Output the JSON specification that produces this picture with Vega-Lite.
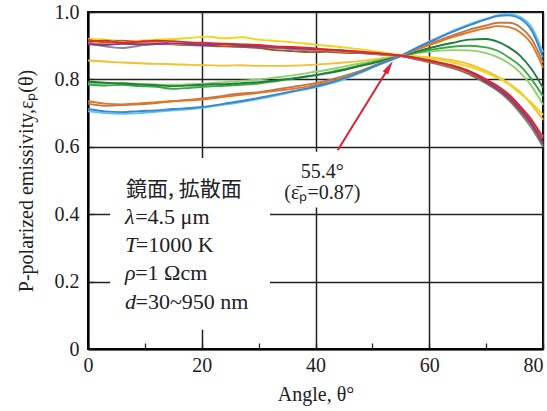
{
  "$schema": "https://vega.github.io/schema/vega-lite/v6.json",
  "width": 455,
  "height": 337,
  "autosize": {"type": "none"},
  "padding": {"left": 88, "top": 12, "right": 4, "bottom": 62},
  "background": "white",
  "config": {
    "view": {"stroke": "#000", "strokeWidth": 2},
    "font": "Liberation Serif"
  },
  "datasets": {
    "curves": [
      {"x":0,"a1":0.912,"a2":0.905,"a3":0.918,"a4":0.910,"a5":0.908,"a6":0.920,"b1":0.856,"b2":0.793,"b3":0.785,"b4":0.790,"b5":0.735,"b6":0.728,"b7":0.712,"b8":0.705},
      {"x":3,"a1":0.915,"a2":0.902,"a3":0.910,"a4":0.905,"a5":0.898,"a6":0.918,"b1":0.853,"b2":0.790,"b3":0.782,"b4":0.788,"b5":0.728,"b6":0.722,"b7":0.705,"b8":0.700},
      {"x":6,"a1":0.908,"a2":0.906,"a3":0.915,"a4":0.912,"a5":0.893,"a6":0.914,"b1":0.850,"b2":0.788,"b3":0.784,"b4":0.790,"b5":0.726,"b6":0.724,"b7":0.703,"b8":0.698},
      {"x":9,"a1":0.912,"a2":0.904,"a3":0.910,"a4":0.908,"a5":0.900,"a6":0.915,"b1":0.848,"b2":0.785,"b3":0.780,"b4":0.787,"b5":0.729,"b6":0.726,"b7":0.706,"b8":0.700},
      {"x":12,"a1":0.915,"a2":0.905,"a3":0.912,"a4":0.910,"a5":0.905,"a6":0.918,"b1":0.846,"b2":0.783,"b3":0.778,"b4":0.785,"b5":0.732,"b6":0.730,"b7":0.708,"b8":0.704},
      {"x":15,"a1":0.913,"a2":0.907,"a3":0.905,"a4":0.904,"a5":0.904,"a6":0.920,"b1":0.845,"b2":0.780,"b3":0.772,"b4":0.784,"b5":0.736,"b6":0.735,"b7":0.712,"b8":0.708},
      {"x":18,"a1":0.910,"a2":0.905,"a3":0.902,"a4":0.905,"a5":0.903,"a6":0.923,"b1":0.843,"b2":0.782,"b3":0.775,"b4":0.786,"b5":0.738,"b6":0.740,"b7":0.715,"b8":0.712},
      {"x":21,"a1":0.908,"a2":0.902,"a3":0.900,"a4":0.906,"a5":0.904,"a6":0.927,"b1":0.842,"b2":0.785,"b3":0.779,"b4":0.788,"b5":0.742,"b6":0.745,"b7":0.720,"b8":0.718},
      {"x":24,"a1":0.906,"a2":0.905,"a3":0.898,"a4":0.902,"a5":0.900,"a6":0.922,"b1":0.841,"b2":0.786,"b3":0.781,"b4":0.792,"b5":0.748,"b6":0.752,"b7":0.728,"b8":0.725},
      {"x":27,"a1":0.904,"a2":0.900,"a3":0.897,"a4":0.903,"a5":0.897,"a6":0.925,"b1":0.842,"b2":0.789,"b3":0.784,"b4":0.796,"b5":0.754,"b6":0.758,"b7":0.736,"b8":0.733},
      {"x":30,"a1":0.902,"a2":0.898,"a3":0.893,"a4":0.899,"a5":0.896,"a6":0.918,"b1":0.840,"b2":0.792,"b3":0.788,"b4":0.800,"b5":0.760,"b6":0.762,"b7":0.745,"b8":0.742},
      {"x":33,"a1":0.898,"a2":0.895,"a3":0.887,"a4":0.895,"a5":0.893,"a6":0.914,"b1":0.840,"b2":0.797,"b3":0.794,"b4":0.806,"b5":0.766,"b6":0.770,"b7":0.755,"b8":0.752},
      {"x":36,"a1":0.896,"a2":0.893,"a3":0.884,"a4":0.893,"a5":0.890,"a6":0.910,"b1":0.841,"b2":0.803,"b3":0.802,"b4":0.812,"b5":0.772,"b6":0.778,"b7":0.765,"b8":0.763},
      {"x":39,"a1":0.893,"a2":0.890,"a3":0.881,"a4":0.889,"a5":0.886,"a6":0.905,"b1":0.843,"b2":0.810,"b3":0.810,"b4":0.820,"b5":0.780,"b6":0.786,"b7":0.775,"b8":0.773},
      {"x":42,"a1":0.889,"a2":0.888,"a3":0.882,"a4":0.886,"a5":0.884,"a6":0.900,"b1":0.846,"b2":0.818,"b3":0.820,"b4":0.828,"b5":0.790,"b6":0.796,"b7":0.787,"b8":0.785},
      {"x":45,"a1":0.886,"a2":0.885,"a3":0.879,"a4":0.883,"a5":0.881,"a6":0.895,"b1":0.850,"b2":0.828,"b3":0.830,"b4":0.838,"b5":0.805,"b6":0.810,"b7":0.803,"b8":0.800},
      {"x":48,"a1":0.882,"a2":0.880,"a3":0.878,"a4":0.879,"a5":0.878,"a6":0.889,"b1":0.855,"b2":0.840,"b3":0.842,"b4":0.848,"b5":0.822,"b6":0.826,"b7":0.822,"b8":0.820},
      {"x":51,"a1":0.878,"a2":0.877,"a3":0.875,"a4":0.876,"a5":0.874,"a6":0.882,"b1":0.861,"b2":0.852,"b3":0.854,"b4":0.857,"b5":0.843,"b6":0.846,"b7":0.844,"b8":0.842},
      {"x":55,"a1":0.870,"a2":0.871,"a3":0.869,"a4":0.870,"a5":0.869,"a6":0.872,"b1":0.870,"b2":0.870,"b3":0.869,"b4":0.870,"b5":0.870,"b6":0.870,"b7":0.870,"b8":0.870},
      {"x":58,"a1":0.862,"a2":0.863,"a3":0.860,"a4":0.861,"a5":0.858,"a6":0.866,"b1":0.868,"b2":0.884,"b3":0.880,"b4":0.878,"b5":0.890,"b6":0.892,"b7":0.895,"b8":0.896},
      {"x":61,"a1":0.853,"a2":0.852,"a3":0.849,"a4":0.851,"a5":0.847,"a6":0.860,"b1":0.864,"b2":0.897,"b3":0.890,"b4":0.884,"b5":0.908,"b6":0.912,"b7":0.918,"b8":0.920},
      {"x":64,"a1":0.842,"a2":0.840,"a3":0.835,"a4":0.838,"a5":0.834,"a6":0.851,"b1":0.857,"b2":0.908,"b3":0.897,"b4":0.887,"b5":0.925,"b6":0.930,"b7":0.940,"b8":0.943},
      {"x":67,"a1":0.825,"a2":0.822,"a3":0.817,"a4":0.820,"a5":0.815,"a6":0.838,"b1":0.845,"b2":0.918,"b3":0.900,"b4":0.886,"b5":0.940,"b6":0.947,"b7":0.960,"b8":0.963},
      {"x":70,"a1":0.800,"a2":0.795,"a3":0.790,"a4":0.797,"a5":0.788,"a6":0.820,"b1":0.825,"b2":0.920,"b3":0.895,"b4":0.878,"b5":0.952,"b6":0.960,"b7":0.978,"b8":0.980},
      {"x":72,"a1":0.780,"a2":0.773,"a3":0.770,"a4":0.778,"a5":0.766,"a6":0.805,"b1":0.808,"b2":0.912,"b3":0.885,"b4":0.866,"b5":0.958,"b6":0.968,"b7":0.988,"b8":0.990},
      {"x":74,"a1":0.755,"a2":0.748,"a3":0.742,"a4":0.752,"a5":0.738,"a6":0.785,"b1":0.788,"b2":0.895,"b3":0.865,"b4":0.848,"b5":0.955,"b6":0.968,"b7":0.990,"b8":0.995},
      {"x":76,"a1":0.720,"a2":0.712,"a3":0.706,"a4":0.716,"a5":0.700,"a6":0.758,"b1":0.762,"b2":0.870,"b3":0.840,"b4":0.820,"b5":0.940,"b6":0.955,"b7":0.980,"b8":0.985},
      {"x":78,"a1":0.680,"a2":0.670,"a3":0.664,"a4":0.676,"a5":0.655,"a6":0.730,"b1":0.725,"b2":0.830,"b3":0.800,"b4":0.780,"b5":0.905,"b6":0.920,"b7":0.945,"b8":0.955},
      {"x":80,"a1":0.625,"a2":0.612,"a3":0.605,"a4":0.630,"a5":0.600,"a6":0.695,"b1":0.680,"b2":0.775,"b3":0.750,"b4":0.725,"b5":0.835,"b6":0.850,"b7":0.865,"b8":0.880}
    ],
    "boxes": [
      {"x":3.9,"x2":32,"y":0.057,"y2":0.567},
      {"x":35.5,"x2":49.9,"y":0.42,"y2":0.585}
    ],
    "cjk": [{"x":6.7,"y":0.472,"t":"鏡面, 拡散面"}],
    "syms": [
      {"x":6.5,"y":0.393,"t":"λ"},
      {"x":6.5,"y":0.309,"t":"T"},
      {"x":6.5,"y":0.226,"t":"ρ"},
      {"x":6.5,"y":0.140,"t":"d"}
    ],
    "rest": [
      {"x":8.3,"y":0.393,"t":"=4.5 μm"},
      {"x":8.4,"y":0.309,"t":"=1000 K"},
      {"x":8.3,"y":0.226,"t":"=1 Ωcm"},
      {"x":8.35,"y":0.140,"t":"=30~950 nm"}
    ],
    "ann": [
      {"x":41.2,"y":0.526,"t":"55.4°"},
      {"x":41.2,"y":0.463,"t":"(ε̄ₚ=0.87)"}
    ],
    "arrow": [{"x":43.9,"y":0.59,"x2":52.95,"y2":0.837}]
  },
  "layer": [
    {
      "data": {"name": "curves"},
      "transform": [{"fold": ["b1","b4","b3","b2","b6","b5","b8","b7","a5","a6","a3","a4","a2","a1"], "as": ["k","y"]}],
      "mark": {"type": "line", "strokeWidth": 1.9, "interpolate": "monotone"},
      "encoding": {
        "x": {
          "field": "x", "type": "quantitative",
          "scale": {"domain": [0, 80], "nice": false, "zero": false},
          "axis": {
            "values": [0,10,20,30,40,50,60,70,80],
            "grid": true,
            "gridColor": "#222",
            "gridWidth": 1.5,
            "gridOpacity": {"condition": {"test": "datum.value % 20 !== 0", "value": 0}, "value": 1},
            "tickSize": -6,
            "tickColor": "#222",
            "tickWidth": 1.3,
            "domainColor": "#000",
            "domainWidth": 2,
            "labelExpr": "datum.value % 20 === 0 ? datum.label : ''",
            "labelAlign": {"condition": {"test": "datum.value === 80", "value": "right"}, "value": "center"},
            "labelFont": "Liberation Serif",
            "labelFontSize": 20,
            "labelColor": "#222",
            "labelPadding": 12,
            "labelFlush": false,
            "labelOverlap": false,
            "title": "Angle, θ°",
            "titleFont": "Liberation Serif",
            "titleFontSize": 20,
            "titleFontWeight": "normal",
            "titleColor": "#222",
            "titlePadding": 9
          }
        },
        "y": {
          "field": "y", "type": "quantitative",
          "scale": {"domain": [0, 1], "nice": false, "zero": false},
          "axis": {
            "values": [0,0.1,0.2,0.3,0.4,0.5,0.6,0.7,0.8,0.9,1.0],
            "grid": true,
            "gridColor": "#222",
            "gridWidth": 1.5,
            "gridOpacity": {"condition": {"test": "round(datum.value*10) % 2 !== 0", "value": 0}, "value": 1},
            "tickSize": -6,
            "tickColor": "#222",
            "tickWidth": 1.3,
            "domainColor": "#000",
            "domainWidth": 2,
            "labelExpr": "round(datum.value*10) % 2 === 0 ? (datum.value === 0 ? '0' : format(datum.value, '.1f')) : ''",
            "labelFont": "Liberation Serif",
            "labelFontSize": 20,
            "labelColor": "#222",
            "labelPadding": 15,
            "labelOverlap": false,
            "title": "P-polarized emissivity,εₚ(θ)",
            "titleFont": "Liberation Serif",
            "titleFontSize": 20,
            "titleFontWeight": "normal",
            "titleColor": "#222",
            "titlePadding": 18
          }
        },
        "color": {
          "field": "k", "type": "nominal", "legend": null,
          "scale": {
            "domain": ["a1","a2","a3","a4","a5","a6","b1","b2","b3","b4","b5","b6","b7","b8"],
            "range": ["#e3262b","#7a3d9b","#9b5a2e","#ef8a28","#8a8a8a","#f3d417","#f2c12e","#1f7f3a","#3aa845","#8fd16a","#e8741f","#b87a50","#3a86d0","#5cc3ee"]
          }
        }
      }
    },
    {
      "data": {"name": "boxes"},
      "mark": {"type": "rect", "fill": "white", "stroke": null},
      "encoding": {
        "x": {"field": "x", "type": "quantitative"},
        "x2": {"field": "x2"},
        "y": {"field": "y", "type": "quantitative"},
        "y2": {"field": "y2"}
      }
    },
    {
      "data": {"name": "cjk"},
      "mark": {"type": "text", "align": "left", "baseline": "middle", "font": "Noto Sans CJK JP", "fontSize": 21, "color": "#222"},
      "encoding": {
        "x": {"field": "x", "type": "quantitative"},
        "y": {"field": "y", "type": "quantitative"},
        "text": {"field": "t"}
      }
    },
    {
      "data": {"name": "syms"},
      "mark": {"type": "text", "align": "left", "baseline": "middle", "font": "Liberation Serif", "fontStyle": "italic", "fontSize": 22, "color": "#222"},
      "encoding": {
        "x": {"field": "x", "type": "quantitative"},
        "y": {"field": "y", "type": "quantitative"},
        "text": {"field": "t"}
      }
    },
    {
      "data": {"name": "rest"},
      "mark": {"type": "text", "align": "left", "baseline": "middle", "font": "Liberation Serif", "fontSize": 22, "color": "#222"},
      "encoding": {
        "x": {"field": "x", "type": "quantitative"},
        "y": {"field": "y", "type": "quantitative"},
        "text": {"field": "t"}
      }
    },
    {
      "data": {"name": "ann"},
      "mark": {"type": "text", "align": "center", "baseline": "middle", "font": "Liberation Serif", "fontSize": 20, "color": "#222"},
      "encoding": {
        "x": {"field": "x", "type": "quantitative"},
        "y": {"field": "y", "type": "quantitative"},
        "text": {"field": "t"}
      }
    },
    {
      "data": {"name": "arrow"},
      "mark": {"type": "rule", "color": "#e0203a", "strokeWidth": 2},
      "encoding": {
        "x": {"field": "x", "type": "quantitative"},
        "y": {"field": "y", "type": "quantitative"},
        "x2": {"field": "x2"},
        "y2": {"field": "y2"}
      }
    },
    {
      "data": {"name": "arrow"},
      "mark": {"type": "point", "shape": "M0,-1L0.45,1L-0.45,1Z", "filled": true, "color": "#e0203a", "opacity": 1, "size": 196, "angle": 32},
      "encoding": {
        "x": {"field": "x2", "type": "quantitative"},
        "y": {"field": "y2", "type": "quantitative"}
      }
    }
  ]
}
